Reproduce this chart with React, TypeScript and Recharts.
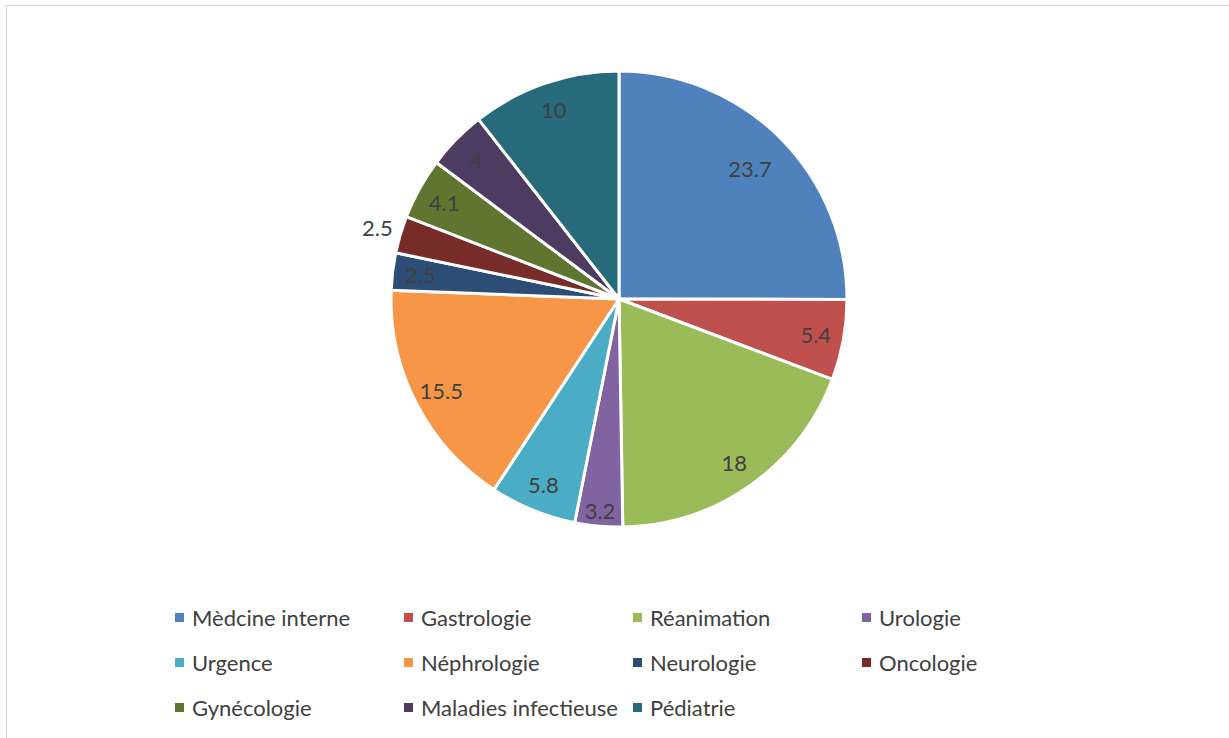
import { PieChart, Pie, Cell } from "recharts"

const services = [
  "Mèdcine interne",
  "Gastrologie",
  "Réanimation",
  "Urologie",
  "Urgence",
  "Néphrologie",
  "Neurologie",
  "Oncologie",
  "Gynécologie",
  "Maladies infectieuse",
  "Pédiatrie",
]

const percents = [23.7, 5.4, 18, 3.2, 5.8, 15.5, 2.5, 2.5, 4.1, 4, 10]

const colors = [
  "#4F81BD",
  "#C0504D",
  "#9BBB59",
  "#8064A2",
  "#4BACC6",
  "#F79646",
  "#2C4D75",
  "#772C2A",
  "#5F7530",
  "#4D3B62",
  "#276A7C",
]

const data = services.map((name, i) => ({ name, value: percents[i] }))

const FONT = "Lato, 'Open Sans', sans-serif"
const RAD = Math.PI / 180

function renderLabel(props: any) {
  const { cx, cy, midAngle, outerRadius, index, value } = props
  // the second small slice sits outside, as in the original
  let r = outerRadius - 28
  if (index === 7) r = outerRadius + 24
  if (index === 0) r = outerRadius - 43
  if (index === 3) r = outerRadius - 16
  const x = cx + r * Math.cos(-midAngle * RAD)
  const y = cy + r * Math.sin(-midAngle * RAD)
  return (
    <text
      x={x}
      y={y}
      fill="#404040"
      fontSize={22}
      fontFamily={FONT}
      textAnchor="middle"
      dominantBaseline="central"
    >
      {value}
    </text>
  )
}

function ChartLegend() {
  return (
    <div
      style={{
        position: "absolute",
        left: 175,
        top: 606,
        display: "grid",
        gridTemplateColumns: "229px 229px 229px 229px",
        rowGap: 23,
        fontFamily: FONT,
        fontSize: 22,
        color: "#404040",
      }}
    >
      {services.map((name, i) => (
        <div key={name} style={{ display: "flex", alignItems: "center", height: 22, whiteSpace: "nowrap" }}>
          <span
            style={{
              width: 9,
              height: 9,
              background: colors[i],
              display: "inline-block",
              marginRight: 8,
              flex: "none",
            }}
          />
          <span>{name}</span>
        </div>
      ))}
    </div>
  )
}

export default function App() {
  return (
    <div style={{ position: "fixed", left: 0, top: 0, width: 1229, height: 738, background: "#fff" }}>
      <div
        style={{
          position: "absolute",
          left: 6,
          top: 5,
          width: 1240,
          height: 760,
          border: "1px solid #d9d9d9",
        }}
      />
      <PieChart
        width={1229}
        height={600}
        margin={{ top: 0, right: 0, bottom: 0, left: 0 }}
        style={{ position: "absolute", left: 0, top: 0 }}
      >
        <Pie
          data={data}
          dataKey="value"
          nameKey="name"
          cx={619}
          cy={299}
          outerRadius={228}
          startAngle={90}
          endAngle={-270}
          stroke="#fff"
          strokeWidth={3}
          label={renderLabel}
          labelLine={false}
          isAnimationActive={false}
        >
          {data.map((d, i) => (
            <Cell key={d.name} fill={colors[i]} />
          ))}
        </Pie>
      </PieChart>
      <ChartLegend />
    </div>
  )
}
